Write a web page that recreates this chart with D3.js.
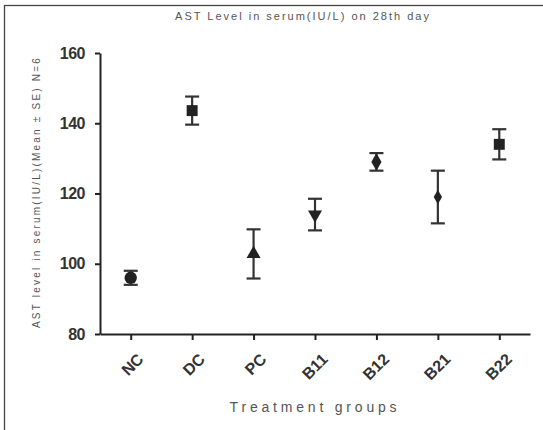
<!DOCTYPE html>
<html>
<head>
<meta charset="utf-8">
<script src="https://cdn.jsdelivr.net/npm/d3@7"></script>
<style>
  body { margin: 0; background: #fff; }
  text { font-family: "Liberation Sans", Arial, sans-serif; }
</style>
</head>
<body>
<div id="chart"></div>
<script>
let svgWidth = 543;
let svgHeight = 430;
let margin = { top: 53, right: 13, bottom: 96, left: 100 };
let width = svgWidth - margin.left - margin.right;
let height = svgHeight - margin.top - margin.bottom;

// Data
let groups = ["NC", "DC", "PC", "B11", "B12", "B21", "B22"];
let means = [96, 143.6, 102.8, 114, 129, 119, 134];
let errors = [2, 4, 7, 4.5, 2.5, 7.5, 4.3];
let symbols = ["circle", "square", "triangle", "triangleDown", "diamond", "diamondSmall", "square"];
let yTicks = [80, 100, 120, 140, 160];

let svg = d3.select("#chart").append("svg").attr("width", svgWidth).attr("height", svgHeight);

// frame
svg.append("rect")
  .attr("x", 4.5).attr("y", 5.5)
  .attr("width", 600).attr("height", 500)
  .attr("fill", "none").attr("stroke", "#444").attr("stroke-width", 1.3);

let chartGroup = svg.append("g").attr("transform", `translate(${margin.left}, ${margin.top})`);

let x = d3.scalePoint().domain(groups).range([0, width]).padding(0.5);
let y = d3.scaleLinear().domain([80, 160]).range([height, 0]);

// axes
let yAxis = chartGroup.append("g")
  .call(d3.axisLeft(y).tickValues(yTicks).tickSize(5).tickSizeOuter(0).tickPadding(10));
yAxis.select(".domain").attr("stroke", "#222").attr("stroke-width", 2);
yAxis.selectAll(".tick line").attr("stroke", "#222").attr("stroke-width", 2);
yAxis.selectAll("text").attr("font-size", 16).attr("fill", "#333").attr("font-weight", "bold")
  .attr("letter-spacing", -0.5);

let xAxis = chartGroup.append("g")
  .attr("transform", `translate(0, ${height})`)
  .call(d3.axisBottom(x).tickSize(6).tickSizeOuter(0));
xAxis.select(".domain").attr("stroke", "#222").attr("stroke-width", 2);
xAxis.selectAll(".tick line").attr("stroke", "#222").attr("stroke-width", 2);
xAxis.selectAll("text")
  .attr("font-size", 16).attr("fill", "#333").attr("font-weight", "bold")
  .attr("text-anchor", "end")
  .attr("dx", "0").attr("dy", "0.7em")
  .attr("transform", "translate(-1, 12) rotate(-45)");

// labels
svg.append("text")
  .attr("x", 303).attr("y", 20)
  .attr("text-anchor", "middle")
  .attr("font-size", 11).attr("fill", "#555")
  .attr("letter-spacing", 2)
  .text("AST Level in serum(IU/L) on 28th day");

svg.append("text")
  .attr("transform", `translate(40, 192) rotate(-90)`)
  .attr("text-anchor", "middle")
  .attr("font-size", 10).attr("fill", "#555")
  .attr("letter-spacing", 2.2)
  .text("AST level in serum(IU/L)(Mean ± SE) N=6");

svg.append("text")
  .attr("x", 315).attr("y", 412)
  .attr("text-anchor", "middle")
  .attr("font-size", 14).attr("fill", "#555")
  .attr("letter-spacing", 3.8)
  .text("Treatment groups");

// error bars
let bars = chartGroup.selectAll(".err")
  .data(groups)
  .enter()
  .append("g")
  .attr("class", "err")
  .attr("stroke", "#333")
  .attr("stroke-width", 2.2);

bars.append("line")
  .attr("x1", d => x(d)).attr("x2", d => x(d))
  .attr("y1", (d, i) => y(means[i] + errors[i]))
  .attr("y2", (d, i) => y(means[i] - errors[i]));
bars.append("line")
  .attr("x1", d => x(d) - 7).attr("x2", d => x(d) + 7)
  .attr("y1", (d, i) => y(means[i] + errors[i]))
  .attr("y2", (d, i) => y(means[i] + errors[i]));
bars.append("line")
  .attr("x1", d => x(d) - 7).attr("x2", d => x(d) + 7)
  .attr("y1", (d, i) => y(means[i] - errors[i]))
  .attr("y2", (d, i) => y(means[i] - errors[i]));

// markers
let symbolType = {
  circle: [d3.symbolCircle, 120],
  square: [d3.symbolSquare, 120],
  triangle: [d3.symbolTriangle, 85],
  triangleDown: [d3.symbolTriangle, 85],
  diamond: [d3.symbolDiamond, 90],
  diamondSmall: [d3.symbolDiamond, 60]
};

chartGroup.selectAll(".pt")
  .data(groups)
  .enter()
  .append("path")
  .attr("class", "pt")
  .attr("d", (d, i) => d3.symbol().type(symbolType[symbols[i]][0]).size(symbolType[symbols[i]][1])())
  .attr("transform", (d, i) => `translate(${x(d)}, ${y(means[i])})` + (symbols[i] === "triangleDown" ? " rotate(180)" : ""))
  .attr("fill", "#222");
</script>
</body>
</html>
